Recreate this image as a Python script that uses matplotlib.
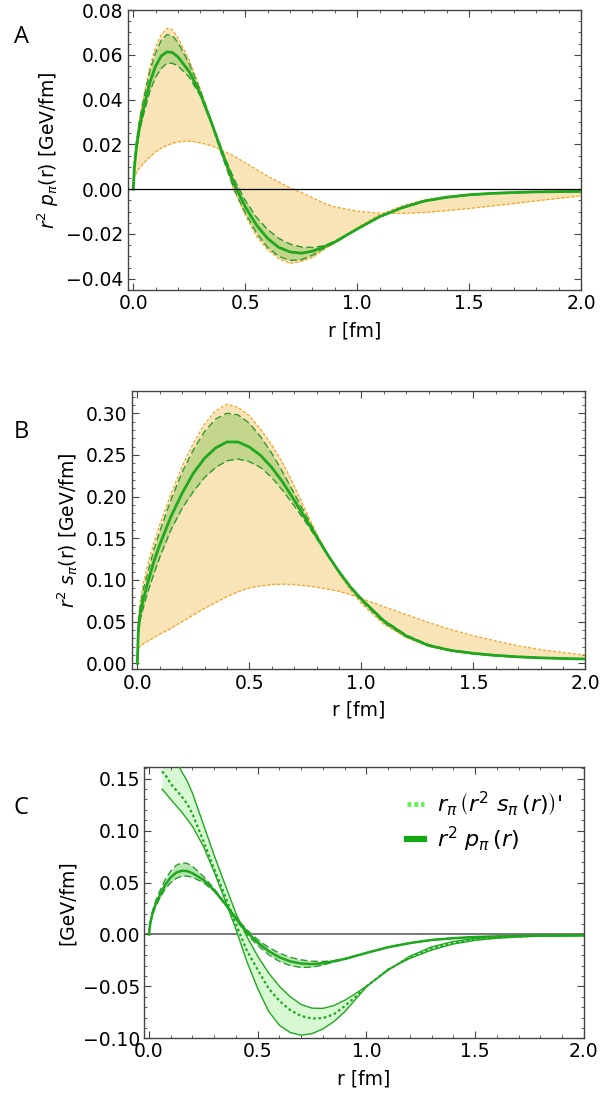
import numpy as np
import matplotlib.pyplot as plt
from matplotlib.ticker import MultipleLocator
from matplotlib.lines import Line2D

# ── radial grids [fm] ─────────────────────────────────────────────────────────
r_A = [0, 0.005, 0.015, 0.03, 0.05, 0.075, 0.1, 0.125, 0.15, 0.175, 0.2, 0.25,
       0.3, 0.35, 0.4, 0.45, 0.5, 0.55, 0.6, 0.65, 0.7, 0.75, 0.8, 0.85, 0.9,
       1.0, 1.1, 1.2, 1.3, 1.4, 1.5, 1.6, 1.7, 1.8, 1.9, 2.0]

# ── panel A: r^2 p(r) ─────────────────────────────────────────────────────────
p_mid = [0, 0.010, 0.0196, 0.029, 0.038, 0.048, 0.055, 0.0595, 0.0613, 0.061,
         0.059, 0.0525, 0.0425, 0.0295, 0.0155, 0.0025, -0.0078, -0.016, -0.022,
         -0.026, -0.028, -0.0286, -0.0277, -0.0258, -0.0236, -0.0178, -0.0123,
         -0.0083, -0.0053, -0.0036, -0.0025, -0.0019, -0.0015, -0.0012, -0.0011, -0.001]
p_hi = [0, 0.011, 0.022, 0.032, 0.042, 0.053, 0.061, 0.0665, 0.069, 0.0685,
        0.0655, 0.056, 0.044, 0.030, 0.0165, 0.0045, -0.005, -0.0125, -0.018,
        -0.022, -0.0245, -0.0258, -0.026, -0.0253, -0.0233, -0.0178, -0.0122,
        -0.0082, -0.0052, -0.0035, -0.0024, -0.0018, -0.0014, -0.0012, -0.001, -0.001]
p_lo = [0, 0.009, 0.018, 0.027, 0.035, 0.044, 0.050, 0.054, 0.0562, 0.0562,
        0.055, 0.050, 0.0415, 0.029, 0.014, 0.000, -0.0105, -0.0195, -0.026,
        -0.030, -0.0318, -0.0315, -0.0295, -0.0265, -0.0240, -0.0178, -0.0125,
        -0.0085, -0.0055, -0.0038, -0.0027, -0.002, -0.0016, -0.0013, -0.0012, -0.0011]
p_alt1 = [0, 0.012, 0.023, 0.033, 0.043, 0.055, 0.0635, 0.069, 0.0718, 0.0712,
          0.0675, 0.0575, 0.0445, 0.030, 0.0145, -0.0005, -0.0115, -0.021, -0.027,
          -0.031, -0.0331, -0.0322, -0.0305, -0.027, -0.0238, -0.0172, -0.0114,
          -0.0075, -0.0048, -0.0032, -0.0022, -0.0016, -0.0012, -0.001, -0.0009, -0.0008]
p_alt2 = [0, 0.0055, 0.0075, 0.0098, 0.012, 0.0145, 0.0167, 0.0183, 0.0195, 0.0205,
          0.0211, 0.0215, 0.0207, 0.0194, 0.0172, 0.0148, 0.0118, 0.0088, 0.0058,
          0.0032, 0.0006, -0.0014, -0.0038, -0.0062, -0.0079, -0.0098, -0.0107,
          -0.0108, -0.0104, -0.0096, -0.0086, -0.0075, -0.0064, -0.0052, -0.0041, -0.003]

# ── panel B: r^2 s(r) ─────────────────────────────────────────────────────────
r_B = [0, 0.005, 0.015, 0.03, 0.05, 0.075, 0.1, 0.15, 0.2, 0.25, 0.3, 0.35, 0.4,
       0.45, 0.5, 0.55, 0.6, 0.65, 0.7, 0.75, 0.8, 0.85, 0.9, 0.95, 1.0, 1.1,
       1.2, 1.3, 1.4, 1.5, 1.6, 1.7, 1.8, 1.9, 2.0]
s_mid = [0, 0.042, 0.063, 0.080, 0.100, 0.123, 0.142, 0.176, 0.204, 0.228, 0.246,
         0.2585, 0.2655, 0.2655, 0.2595, 0.2495, 0.235, 0.217, 0.196, 0.174, 0.152,
         0.130, 0.110, 0.092, 0.077, 0.051, 0.033, 0.0215, 0.0155, 0.012, 0.0095,
         0.0078, 0.0066, 0.0058, 0.0052]
s_hi = [0, 0.050, 0.072, 0.092, 0.112, 0.137, 0.158, 0.196, 0.229, 0.256, 0.278,
        0.293, 0.300, 0.298, 0.288, 0.272, 0.252, 0.229, 0.204, 0.179, 0.154,
        0.131, 0.110, 0.091, 0.075, 0.049, 0.032, 0.021, 0.015, 0.0115, 0.009,
        0.0075, 0.0064, 0.0056, 0.005]
s_lo = [0, 0.035, 0.055, 0.070, 0.088, 0.108, 0.127, 0.160, 0.186, 0.206, 0.223,
        0.235, 0.243, 0.245, 0.242, 0.235, 0.223, 0.207, 0.189, 0.170, 0.150,
        0.130, 0.111, 0.093, 0.078, 0.052, 0.034, 0.0225, 0.016, 0.0125, 0.010,
        0.0082, 0.007, 0.006, 0.0055]
s_alt1 = [0, 0.055, 0.078, 0.100, 0.122, 0.146, 0.166, 0.203, 0.236, 0.264, 0.287,
          0.303, 0.311, 0.307, 0.297, 0.281, 0.262, 0.240, 0.213, 0.184, 0.156,
          0.131, 0.108, 0.089, 0.072, 0.047, 0.031, 0.0205, 0.0145, 0.011, 0.0088,
          0.0072, 0.0062, 0.0054, 0.0048]
s_alt2 = [0, 0.018, 0.021, 0.024, 0.027, 0.031, 0.035, 0.042, 0.050, 0.058, 0.066,
          0.073, 0.080, 0.086, 0.0905, 0.093, 0.0945, 0.095, 0.0945, 0.093, 0.0915,
          0.089, 0.0865, 0.0825, 0.078, 0.068, 0.0585, 0.049, 0.0405, 0.0332,
          0.0268, 0.021, 0.0165, 0.013, 0.010]

# ── panel C: r (r^2 s(r))' vs r^2 p(r) ────────────────────────────────────────
r_D = [0.06, 0.08, 0.1, 0.125, 0.15, 0.175, 0.2, 0.25, 0.3, 0.35, 0.4, 0.45, 0.5,
       0.55, 0.6, 0.65, 0.7, 0.75, 0.8, 0.85, 0.9, 0.95, 1.0, 1.1, 1.2, 1.3, 1.4,
       1.5, 1.6, 1.7, 1.8, 1.9, 2.0]
d_mid = [0.157, 0.152, 0.145, 0.139, 0.133, 0.126, 0.116, 0.090, 0.063, 0.037,
         0.010, -0.0155, -0.034, -0.052, -0.064, -0.073, -0.0785, -0.081, -0.0805,
         -0.077, -0.069, -0.060, -0.050, -0.034, -0.022, -0.0135, -0.008, -0.0048,
         -0.003, -0.002, -0.0012, -0.0008, -0.0005]
d_hi = [0.19, 0.183, 0.176, 0.167, 0.157, 0.148, 0.136, 0.106, 0.076, 0.048, 0.020,
        -0.002, -0.021, -0.037, -0.050, -0.060, -0.0675, -0.071, -0.0712, -0.0685,
        -0.0635, -0.057, -0.050, -0.0345, -0.021, -0.012, -0.0068, -0.0039,
        -0.0023, -0.0014, -0.0009, -0.0006, -0.0004]
d_lo = [0.140, 0.135, 0.130, 0.124, 0.118, 0.111, 0.104, 0.085, 0.060, 0.033, 0.005,
        -0.026, -0.052, -0.074, -0.0875, -0.0945, -0.097, -0.0955, -0.091, -0.084,
        -0.0745, -0.0625, -0.0505, -0.0335, -0.023, -0.015, -0.0092, -0.0057,
        -0.0036, -0.0024, -0.0015, -0.001, -0.0007]

# ── style ─────────────────────────────────────────────────────────────────────
plt.rcParams['font.family'] = ['DejaVu Sans']
plt.rcParams['font.size'] = 13.5

GREEN = "#1fa81f"
GREEN_D = "#2f9a2f"
OLIVE = "#c4d68c"
ORANGE = "#f2a428"
WHEAT = "#f9e4b8"
FRAME = "#444444"


def minus(v, pos):
    return f"{v:.2f}".replace("-", "\u2212")


def frame(ax, xlim, ylim, ymajor, yminor):
    ax.set_xlim(*xlim)
    ax.set_ylim(*ylim)
    ax.xaxis.set_major_locator(MultipleLocator(0.5))
    ax.xaxis.set_minor_locator(MultipleLocator(0.1))
    ax.yaxis.set_major_locator(MultipleLocator(ymajor))
    ax.yaxis.set_minor_locator(MultipleLocator(yminor))
    ax.xaxis.set_major_formatter(lambda v, pos: f"{v:.1f}")
    ax.yaxis.set_major_formatter(minus)
    for s in ax.spines.values():
        s.set_color(FRAME)
        s.set_linewidth(1.0)
    ax.tick_params(which="both", direction="in", top=True, right=True, color=FRAME)
    ax.tick_params(which="major", length=5, pad=3)
    ax.tick_params(which="minor", length=2.5)
    ax.set_xlabel("r [fm]", labelpad=6)


def band(ax, r, mid, hi, lo, alt1, alt2):
    ax.fill_between(r, alt1, alt2, color=WHEAT, lw=0, zorder=1)
    ax.fill_between(r, hi, lo, color=OLIVE, lw=0, zorder=2)
    for c in (alt1, alt2):
        ax.plot(r, c, color=ORANGE, lw=0.9, ls=(0, (2.5, 1.5)), zorder=3)
    for c in (hi, lo):
        ax.plot(r, c, color=GREEN_D, lw=1.0, ls=(0, (5, 2.5)), zorder=4)
    ax.plot(r, mid, color=GREEN, lw=2.0, zorder=5)


fig = plt.figure(figsize=(6.16, 11), dpi=100)

# ── A ─────────────────────────────────────────────────────────────────────────
axA = fig.add_axes([0.2073, 0.7364, 0.7359, 0.2545])
band(axA, r_A, p_mid, p_hi, p_lo, p_alt1, p_alt2)
axA.axhline(0, color="black", lw=0.9, zorder=6)
frame(axA, (-0.025, 2.0), (-0.045, 0.08), 0.02, 0.005)
axA.set_ylabel(r"$r^2\ p_\pi$(r) [GeV/fm]", labelpad=4)
fig.text(0.022, 0.966, "A", fontsize=17, family="Open Sans", va="center")

# ── B ─────────────────────────────────────────────────────────────────────────
axB = fig.add_axes([0.2138, 0.3915, 0.7364, 0.2533])
band(axB, r_B, s_mid, s_hi, s_lo, s_alt1, s_alt2)
frame(axB, (-0.025, 2.0), (-0.0072, 0.327), 0.05, 0.01)
axB.set_ylabel(r"$r^2\ s_\pi$(r) [GeV/fm]", labelpad=4)
fig.text(0.022, 0.607, "B", fontsize=17, family="Open Sans", va="center")

# ── C ─────────────────────────────────────────────────────────────────────────
axC = fig.add_axes([0.2338, 0.0561, 0.7138, 0.2464])
axC.fill_between(r_D, d_hi, d_lo, color="#d8f8d4", lw=0, zorder=1)
axC.plot(r_D, d_hi, color=GREEN, lw=1.0, zorder=3)
axC.plot(r_D, d_lo, color=GREEN, lw=1.0, zorder=3)
axC.plot(r_D, d_mid, color=GREEN, lw=1.6, ls=(0, (1.2, 1.2)), zorder=3)
axC.fill_between(r_A, p_hi, p_lo, color="#ade4a8", lw=0, alpha=0.9, zorder=2)
axC.plot(r_A, p_hi, color=GREEN_D, lw=1.0, ls=(0, (5, 2.5)), zorder=4)
axC.plot(r_A, p_lo, color=GREEN_D, lw=1.0, ls=(0, (5, 2.5)), zorder=4)
axC.plot(r_A, p_mid, color=GREEN, lw=1.8, zorder=5)
axC.axhline(0, color="#777777", lw=1.4, zorder=0)
frame(axC, (-0.023, 2.0), (-0.10, 0.161), 0.05, 0.01)
axC.set_ylabel("[GeV/fm]", labelpad=4)
fig.text(0.022, 0.265, "C", fontsize=17, family="Open Sans", va="center")

handles = [Line2D([], [], color="#66f055", lw=3.5, ls=(0, (0.8, 0.6))),
           Line2D([], [], color="#14a814", lw=4.5)]
labels = [r"$r_\pi\,\left(r^2\ s_\pi\,(r)\right)$'", r"$r^2\ p_\pi\,(r)$"]
axC.legend(handles, labels, loc="upper left", frameon=False, fontsize=16,
           handlelength=0.75, handletextpad=0.6, borderpad=0, borderaxespad=0,
           labelspacing=0.3, bbox_to_anchor=(0.598, 0.92))

fig.savefig("out.png", dpi=100)
